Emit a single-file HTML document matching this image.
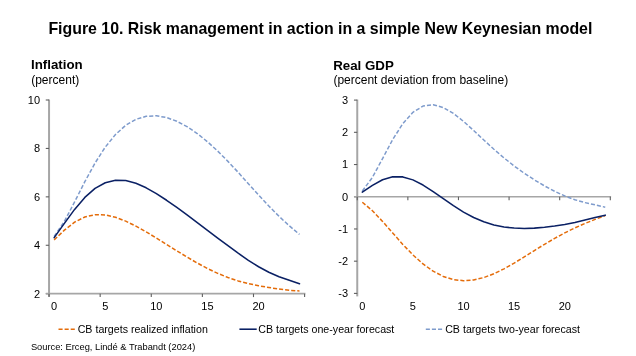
<!DOCTYPE html>
<html><head><meta charset="utf-8"><style>
html,body{margin:0;padding:0;background:#fff;}
body{width:636px;height:356px;overflow:hidden;}
svg{display:block;will-change:transform;font-family:"Liberation Sans",sans-serif;}
.title{font-size:15.9px;font-weight:bold;fill:#000;}
.h{font-size:13.3px;font-weight:bold;fill:#000;}
.sub{font-size:12px;fill:#000;}
.ax{font-size:11px;fill:#000;}
.lg{font-size:10.65px;fill:#000;}
.src{font-size:9.3px;fill:#000;}
</style></head><body>
<svg width="636" height="356" viewBox="0 0 636 356">
<text x="48.4" y="33.9" class="title">Figure 10. Risk management in action in a simple New Keynesian model</text><text x="31" y="69.4" class="h">Inflation</text><text x="31.2" y="84.1" class="sub">(percent)</text><text x="333.2" y="69.6" class="h">Real GDP</text><text x="333.4" y="84.1" class="sub">(percent deviation from baseline)</text><line x1="49.05" y1="99.5" x2="49.05" y2="296.7" stroke="#A6A6A6" stroke-width="2"/><line x1="45.75" y1="100.00" x2="49.05" y2="100.00" stroke="#606060" stroke-width="1.1"/><text x="40.1" y="103.80" text-anchor="end" class="ax">10</text><line x1="45.75" y1="148.43" x2="49.05" y2="148.43" stroke="#606060" stroke-width="1.1"/><text x="40.1" y="152.23" text-anchor="end" class="ax">8</text><line x1="45.75" y1="196.85" x2="49.05" y2="196.85" stroke="#606060" stroke-width="1.1"/><text x="40.1" y="200.65" text-anchor="end" class="ax">6</text><line x1="45.75" y1="245.27" x2="49.05" y2="245.27" stroke="#606060" stroke-width="1.1"/><text x="40.1" y="249.07" text-anchor="end" class="ax">4</text><line x1="45.75" y1="293.70" x2="49.05" y2="293.70" stroke="#606060" stroke-width="1.1"/><text x="40.1" y="297.50" text-anchor="end" class="ax">2</text><line x1="45.849999999999994" y1="293.70" x2="305.40000000000003" y2="293.70" stroke="#A6A6A6" stroke-width="1.7"/><line x1="49.05" y1="293.70" x2="49.05" y2="297.10" stroke="#606060" stroke-width="1.1"/><line x1="100.16" y1="293.70" x2="100.16" y2="297.10" stroke="#606060" stroke-width="1.1"/><line x1="151.27" y1="293.70" x2="151.27" y2="297.10" stroke="#606060" stroke-width="1.1"/><line x1="202.38" y1="293.70" x2="202.38" y2="297.10" stroke="#606060" stroke-width="1.1"/><line x1="253.49" y1="293.70" x2="253.49" y2="297.10" stroke="#606060" stroke-width="1.1"/><line x1="304.60" y1="293.70" x2="304.60" y2="297.10" stroke="#606060" stroke-width="1.1"/><text x="54.16" y="310" text-anchor="middle" class="ax">0</text><text x="105.27" y="310" text-anchor="middle" class="ax">5</text><text x="156.38" y="310" text-anchor="middle" class="ax">10</text><text x="207.49" y="310" text-anchor="middle" class="ax">15</text><text x="258.60" y="310" text-anchor="middle" class="ax">20</text><line x1="357.25" y1="99.6" x2="357.25" y2="296.4" stroke="#A6A6A6" stroke-width="2"/><line x1="353.95" y1="100.10" x2="357.25" y2="100.10" stroke="#606060" stroke-width="1.1"/><text x="348.1" y="103.90" text-anchor="end" class="ax">3</text><line x1="353.95" y1="132.32" x2="357.25" y2="132.32" stroke="#606060" stroke-width="1.1"/><text x="348.1" y="136.12" text-anchor="end" class="ax">2</text><line x1="353.95" y1="164.53" x2="357.25" y2="164.53" stroke="#606060" stroke-width="1.1"/><text x="348.1" y="168.33" text-anchor="end" class="ax">1</text><line x1="353.95" y1="196.75" x2="357.25" y2="196.75" stroke="#606060" stroke-width="1.1"/><text x="348.1" y="200.55" text-anchor="end" class="ax">0</text><line x1="353.95" y1="228.97" x2="357.25" y2="228.97" stroke="#606060" stroke-width="1.1"/><text x="348.1" y="232.77" text-anchor="end" class="ax">-1</text><line x1="353.95" y1="261.18" x2="357.25" y2="261.18" stroke="#606060" stroke-width="1.1"/><text x="348.1" y="264.98" text-anchor="end" class="ax">-2</text><line x1="353.95" y1="293.40" x2="357.25" y2="293.40" stroke="#606060" stroke-width="1.1"/><text x="348.1" y="297.20" text-anchor="end" class="ax">-3</text><line x1="354.05" y1="196.75" x2="611.0999999999999" y2="196.75" stroke="#A6A6A6" stroke-width="1.7"/><line x1="357.25" y1="196.75" x2="357.25" y2="200.15" stroke="#606060" stroke-width="1.1"/><line x1="407.86" y1="196.75" x2="407.86" y2="200.15" stroke="#606060" stroke-width="1.1"/><line x1="458.47" y1="196.75" x2="458.47" y2="200.15" stroke="#606060" stroke-width="1.1"/><line x1="509.08" y1="196.75" x2="509.08" y2="200.15" stroke="#606060" stroke-width="1.1"/><line x1="559.69" y1="196.75" x2="559.69" y2="200.15" stroke="#606060" stroke-width="1.1"/><line x1="610.30" y1="196.75" x2="610.30" y2="200.15" stroke="#606060" stroke-width="1.1"/><text x="362.31" y="310" text-anchor="middle" class="ax">0</text><text x="412.92" y="310" text-anchor="middle" class="ax">5</text><text x="463.53" y="310" text-anchor="middle" class="ax">10</text><text x="514.14" y="310" text-anchor="middle" class="ax">15</text><text x="564.75" y="310" text-anchor="middle" class="ax">20</text><path d="M54.16,236.47 L64.38,221.38 L74.60,201.92 L84.83,181.71 L95.05,163.02 L105.27,147.09 L115.49,134.48 L125.72,125.28 L135.94,119.32 L146.16,116.29 L156.38,115.82 L166.60,117.57 L176.82,121.27 L187.05,126.66 L197.27,133.54 L207.49,141.75 L217.71,151.09 L227.94,161.37 L238.16,172.32 L248.38,183.66 L258.60,195.01 L268.82,206.02 L279.05,216.35 L289.27,225.80 L299.49,234.41" fill="none" stroke="#7E9BCC" stroke-width="1.5" stroke-dasharray="4.1 2.0" stroke-linejoin="round"/><path d="M54.16,239.90 L64.38,230.12 L74.60,222.18 L84.83,216.99 L95.05,214.68 L105.27,214.93 L115.49,217.26 L125.72,221.15 L135.94,226.15 L146.16,231.87 L156.38,238.04 L166.60,244.42 L176.82,250.82 L187.05,257.08 L197.27,263.03 L207.49,268.50 L217.71,273.36 L227.94,277.51 L238.16,280.90 L248.38,283.60 L258.60,285.74 L268.82,287.51 L279.05,289.07 L289.27,290.38 L299.49,290.93" fill="none" stroke="#E46C0A" stroke-width="1.5" stroke-dasharray="4.1 2.0" stroke-linejoin="round"/><path d="M54.16,237.60 L64.38,223.37 L74.60,209.40 L84.83,197.44 L95.05,188.43 L105.27,182.73 L115.49,180.23 L125.72,180.60 L135.94,183.31 L146.16,187.83 L156.38,193.62 L166.60,200.27 L176.82,207.43 L187.05,214.90 L197.27,222.53 L207.49,230.26 L217.71,238.01 L227.94,245.71 L238.16,253.21 L248.38,260.31 L258.60,266.74 L268.82,272.25 L279.05,276.70 L289.27,280.28 L299.49,283.72" fill="none" stroke="#0A2064" stroke-width="1.55" stroke-linejoin="round" stroke-linecap="round"/><path d="M362.31,191.07 L372.43,177.39 L382.56,158.54 L392.68,139.58 L402.80,123.62 L412.92,112.29 L423.04,106.09 L433.16,104.76 L443.29,107.54 L453.41,113.44 L463.53,121.42 L473.65,130.53 L483.77,139.98 L493.90,149.23 L504.02,157.94 L514.14,165.95 L524.26,173.25 L534.38,179.89 L544.51,185.91 L554.63,191.28 L564.75,195.93 L574.87,199.74 L585.00,202.63 L595.12,204.84 L605.24,207.17" fill="none" stroke="#7E9BCC" stroke-width="1.5" stroke-dasharray="4.1 2.0" stroke-linejoin="round"/><path d="M362.31,202.29 L372.43,210.72 L382.56,221.41 L392.68,232.98 L402.80,244.40 L412.92,254.91 L423.04,263.96 L433.16,271.20 L443.29,276.42 L453.41,279.58 L463.53,280.72 L473.65,279.97 L483.77,277.56 L493.90,273.74 L504.02,268.81 L514.14,263.10 L524.26,256.92 L534.38,250.58 L544.51,244.32 L554.63,238.38 L564.75,232.89 L574.87,227.92 L585.00,223.47 L595.12,219.42 L605.24,215.60" fill="none" stroke="#E46C0A" stroke-width="1.5" stroke-dasharray="4.1 2.0" stroke-linejoin="round"/><path d="M362.31,192.19 L372.43,185.42 L382.56,179.75 L392.68,176.76 L402.80,176.89 L412.92,179.87 L423.04,185.04 L433.16,191.58 L443.29,198.69 L453.41,205.70 L463.53,212.07 L473.65,217.49 L483.77,221.78 L493.90,224.91 L504.02,226.97 L514.14,228.09 L524.26,228.42 L534.38,228.12 L544.51,227.31 L554.63,226.05 L564.75,224.41 L574.87,222.40 L585.00,220.09 L595.12,217.59 L605.24,215.14" fill="none" stroke="#0A2064" stroke-width="1.55" stroke-linejoin="round" stroke-linecap="round"/><line x1="58.5" y1="329.2" x2="75" y2="329.2" stroke="#E46C0A" stroke-width="1.5" stroke-dasharray="4.1 2.0" stroke-linejoin="round"/><text x="77.7" y="333.1" class="lg">CB targets realized inflation</text><line x1="239.4" y1="329.2" x2="256.7" y2="329.2" stroke="#0A2064" stroke-width="1.55"/><text x="258.3" y="333.1" class="lg">CB targets one-year forecast</text><line x1="425.8" y1="329.2" x2="442.5" y2="329.2" stroke="#7E9BCC" stroke-width="1.5" stroke-dasharray="4.1 2.0" stroke-linejoin="round"/><text x="445.2" y="333.1" class="lg">CB targets two-year forecast</text><text x="30.9" y="349.5" class="src">Source: Erceg, Lindé &amp; Trabandt (2024)</text>
</svg>
</body></html>
